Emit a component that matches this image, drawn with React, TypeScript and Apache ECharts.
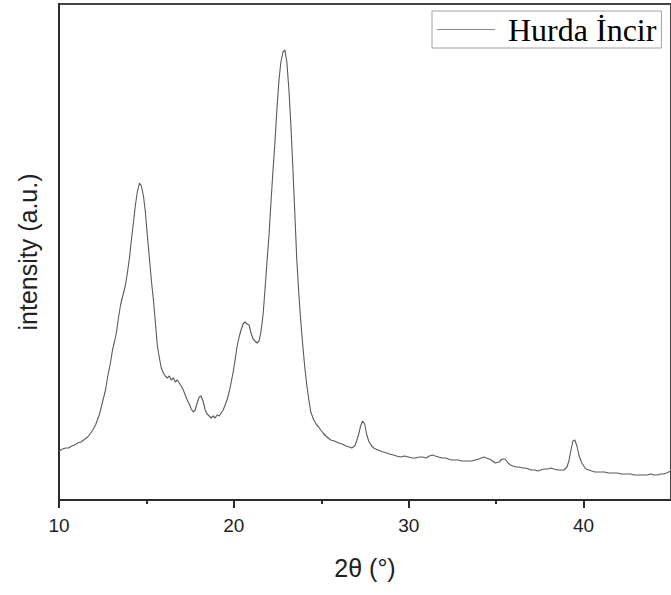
import React, { useEffect, useRef } from "react";
import * as echarts from "echarts";

const seriesName = "Hurda İncir";
const majorTicks = [10, 20, 30, 40];
const minorTicks = [15, 25, 35];
const xTitle = "2θ (°)";
const yTitle = "intensity (a.u.)";

// [2θ (degrees), intensity (a.u.)]
const pattern: [number, number][] = [
  [10.0, 49], [10.2, 51], [10.38, 52], [10.55, 52], [10.72, 54], [10.9, 55], [11.07, 57], [11.25, 58], [11.41, 60], [11.64, 63], [11.86, 68], [12.09, 75],
  [12.32, 86], [12.49, 98], [12.66, 110], [12.77, 122], [12.95, 138], [13.06, 150], [13.17, 158], [13.29, 168],
  [13.4, 182], [13.52, 195], [13.63, 203], [13.8, 215], [13.91, 227], [14.03, 242], [14.14, 260], [14.26, 278],
  [14.37, 295], [14.48, 308], [14.6, 317], [14.71, 314], [14.83, 304], [14.94, 288], [15.05, 265], [15.17, 242],
  [15.28, 220], [15.4, 200], [15.51, 178], [15.62, 155], [15.74, 142], [15.85, 132], [15.97, 127], [16.08, 124],
  [16.19, 122], [16.31, 124], [16.42, 120], [16.54, 122], [16.65, 118], [16.76, 120], [16.88, 117], [16.99, 114],
  [17.11, 110], [17.22, 105], [17.33, 100], [17.45, 96], [17.56, 91], [17.68, 88], [17.79, 90], [17.9, 97],
  [18.02, 103], [18.13, 104], [18.25, 98], [18.36, 90], [18.47, 86], [18.59, 84], [18.7, 82], [18.82, 84],
  [18.93, 82], [19.04, 85], [19.16, 84], [19.27, 87], [19.39, 90], [19.5, 95], [19.61, 100], [19.73, 108],
  [19.84, 117], [19.96, 128], [20.07, 140], [20.18, 153], [20.3, 163], [20.41, 170], [20.53, 176], [20.64, 178],
  [20.75, 176], [20.87, 175], [20.98, 167], [21.1, 161], [21.21, 159], [21.32, 157], [21.44, 159], [21.55, 168],
  [21.67, 185], [21.78, 210], [21.89, 237], [22.01, 265], [22.12, 297], [22.24, 330], [22.35, 358], [22.46, 390],
  [22.58, 420], [22.69, 438], [22.81, 448], [22.92, 450], [23.03, 438], [23.15, 410], [23.26, 375], [23.38, 330],
  [23.49, 285], [23.6, 240], [23.72, 205], [23.83, 178], [23.95, 153], [24.06, 132], [24.17, 115], [24.29, 100],
  [24.4, 88], [24.57, 80], [24.74, 75], [24.85, 73], [24.97, 70], [25.1, 67], [25.26, 64], [25.4, 62], [25.54, 60], [25.75, 59], [26.0, 57], [26.2, 56], [26.4, 54],
  [26.6, 53], [26.74, 52], [26.91, 54], [27.02, 59], [27.14, 66], [27.25, 74], [27.36, 79], [27.48, 76], [27.59, 66],
  [27.71, 59], [27.88, 54], [28.0, 52], [28.11, 51], [28.25, 50], [28.39, 49], [28.55, 48], [28.73, 47], [28.9, 46], [29.13, 45], [29.3, 44], [29.53, 43], [29.75, 44], [29.99, 43],
  [30.2, 42], [30.39, 42], [30.6, 43], [30.78, 43], [31.0, 42], [31.18, 44], [31.35, 45], [31.52, 44], [31.7, 43], [31.92, 42], [32.1, 42], [32.27, 41], [32.45, 40], [32.66, 40], [32.85, 40], [33.01, 39],
  [33.2, 39], [33.4, 39], [33.6, 39], [33.8, 40], [34.0, 41], [34.15, 42], [34.3, 43], [34.43, 42], [34.6, 41], [34.72, 40], [34.94, 37], [35.17, 38], [35.34, 41],
  [35.51, 41], [35.68, 37], [35.82, 35], [35.97, 34], [36.15, 33], [36.31, 33], [36.5, 32], [36.65, 32], [36.85, 31], [37.0, 30], [37.2, 30], [37.39, 29], [37.55, 30], [37.74, 31],
  [37.95, 31], [38.13, 32], [38.3, 31], [38.53, 30], [38.7, 30], [38.88, 30], [39.05, 33], [39.16, 39], [39.27, 49], [39.39, 59], [39.5, 60],
  [39.62, 54], [39.73, 45], [39.9, 37], [40.13, 31], [40.3, 30], [40.47, 29], [40.65, 28], [40.81, 28], [41.0, 28], [41.21, 28], [41.4, 27], [41.55, 27],
  [41.75, 27], [41.95, 27], [42.15, 26], [42.35, 26], [42.5, 26], [42.69, 26], [42.9, 25], [43.09, 25], [43.3, 25], [43.49, 25], [43.65, 25], [43.83, 26], [44.05, 25], [44.23, 25], [44.4, 26], [44.58, 26],
  [44.75, 27], [44.86, 28], [45.0, 29],
];

export default function App() {
  const ref = useRef<HTMLDivElement>(null);
  useEffect(() => {
    if (!ref.current) return;
    const chart = echarts.init(ref.current, undefined, { renderer: "svg" });
    const axisColor = "#2b2b2b";
    chart.setOption({
      animation: false,
      backgroundColor: "#ffffff",
      grid: {
        left: 59,
        top: 4,
        right: -3,
        bottom: 95,
        show: true,
        borderColor: "#444",
        borderWidth: 2,
      },
      legend: {
        show: true,
        left: 432,
        top: 11,
        orient: "horizontal",
        padding: [2, 5, 2, 5],
        borderColor: "#a0a0a0",
        borderWidth: 1,
        borderRadius: 0,
        icon: "rect",
        itemWidth: 58,
        itemHeight: 1,
        itemStyle: { color: "#8a8a8a" },
        textStyle: {
          fontFamily: "Liberation Serif",
          fontSize: 32,
          color: "#000",
          lineHeight: 33,
          padding: [0, 0, 0, 8],
        },
        data: [seriesName],
      },
      xAxis: [
        {
          type: "value",
          min: 10,
          max: 45,
          interval: 10,
          name: xTitle,
          nameLocation: "middle",
          nameGap: 55,
          nameTextStyle: { fontFamily: "Liberation Sans", fontSize: 25, color: "#222" },
          axisLine: { show: true, lineStyle: { color: axisColor, width: 2 } },
          axisTick: {
            show: true,
            inside: false,
            length: 8,
            customValues: majorTicks,
            lineStyle: { color: axisColor, width: 2 },
          },
          axisLabel: {
            show: true,
            margin: 16,
            fontFamily: "Liberation Sans",
            fontSize: 19,
            color: "#222",
            customValues: majorTicks,
          },
          splitLine: { show: false },
        },
        {
          type: "value",
          min: 10,
          max: 45,
          interval: 5,
          position: "bottom",
          axisLine: { show: true, lineStyle: { color: axisColor, width: 2 } },
          axisTick: {
            show: true,
            inside: false,
            length: 4,
            customValues: minorTicks,
            lineStyle: { color: axisColor, width: 2 },
          },
          axisLabel: { show: false },
          splitLine: { show: false },
        },
      ],
      yAxis: {
        type: "value",
        min: 0,
        max: 496,
        name: yTitle,
        nameLocation: "middle",
        nameGap: 19,
        nameTextStyle: { fontFamily: "Liberation Sans", fontSize: 25, color: "#222" },
        axisLine: { show: true, lineStyle: { color: axisColor, width: 2 } },
        axisTick: { show: false },
        axisLabel: { show: false },
        splitLine: { show: false },
      },
      series: [
        {
          name: seriesName,
          type: "line",
          xAxisIndex: 0,
          data: pattern,
          showSymbol: false,
          symbol: "none",
          lineStyle: { color: "#5a5a5a", width: 1.1 },
          itemStyle: { color: "#8a8a8a" },
        },
      ],
    });
    return () => chart.dispose();
  }, []);
  return (
    <div
      ref={ref}
      style={{ position: "fixed", left: 0, top: 0, width: 671, height: 595, background: "#fff" }}
    />
  );
}
